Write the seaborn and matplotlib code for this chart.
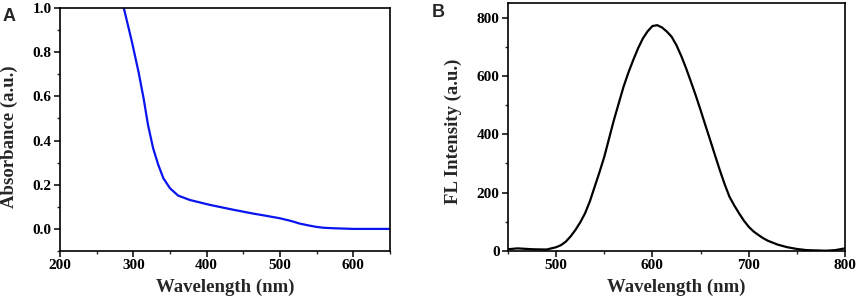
import matplotlib
matplotlib.use("Agg")
import matplotlib.pyplot as plt
import seaborn as sns
import pandas as pd
from matplotlib.ticker import MultipleLocator

sns.set_theme(style="ticks")
plt.rcParams['font.family'] = ['Liberation Serif', 'DejaVu Serif']

# Panel A: UV-vis absorbance
abs_wavelength = [287, 298, 307, 314, 320, 327, 334, 341, 350, 361, 377, 404, 436, 464, 480, 500,
                  515, 527, 540, 550, 560, 573, 600, 650]
abs_values = [1.0, 0.848, 0.712, 0.591, 0.471, 0.365, 0.290, 0.229, 0.184, 0.151, 0.131, 0.109,
              0.087, 0.069, 0.060, 0.048, 0.036, 0.024, 0.015, 0.009, 0.005, 0.003, 0.0, 0.0]

# Panel B: fluorescence emission
fl_wavelength = [450, 460, 475, 490, 500, 505, 510, 515, 520, 525, 530, 535, 540, 545, 550, 555, 560,
                 565, 570, 575, 580, 585, 590, 595, 600, 605, 610, 615, 620, 625, 630, 635, 640,
                 645, 650, 655, 660, 665, 670, 675, 680, 685, 690, 695, 700, 705, 710, 715, 720,
                 730, 740, 750, 760, 770, 780, 790, 800]
fl_values = [6, 9, 6, 5, 13, 20, 32, 50, 72, 98, 129, 170, 220, 270, 323, 386, 449,
             506, 563, 611, 654, 694, 728, 753, 771, 774, 766, 752, 734, 705, 668, 626, 580,
             533, 483, 431, 380, 328, 277, 229, 186, 156, 129, 104, 83, 67, 55, 44, 35,
             22, 13, 7, 3, 2, 1, 3, 9]

dfA = pd.DataFrame({"wl": abs_wavelength, "val": abs_values})
dfB = pd.DataFrame({"wl": fl_wavelength, "val": fl_values})

fig = plt.figure(figsize=(8.58, 3.04), dpi=100)
axA = fig.add_axes([60/858, 1-251/304, 330/858, 243/304])
axB = fig.add_axes([508/858, 1-251/304, 337/858, 248/304])

sns.lineplot(data=dfA, x="wl", y="val", ax=axA, color="#0a14ee", linewidth=1.6)
sns.lineplot(data=dfB, x="wl", y="val", ax=axB, color="black", linewidth=1.6)

axA.set_xlim(200, 650)
axA.set_ylim(-0.1, 1.0)
axA.xaxis.set_major_locator(MultipleLocator(100))
axA.xaxis.set_minor_locator(MultipleLocator(50))
axA.set_yticks([0.0, 0.2, 0.4, 0.6, 0.8, 1.0])
axA.set_yticklabels(["0.0", "0.2", "0.4", "0.6", "0.8", "1.0"])
axA.yaxis.set_minor_locator(MultipleLocator(0.1))

axB.set_xlim(450, 800)
axB.set_ylim(0, 850)
axB.xaxis.set_major_locator(MultipleLocator(100))
axB.xaxis.set_minor_locator(MultipleLocator(50))
axB.yaxis.set_major_locator(MultipleLocator(200))
axB.yaxis.set_minor_locator(MultipleLocator(100))

for ax in (axA, axB):
    for s in ax.spines.values():
        s.set_visible(True)
        s.set_linewidth(1.2)
        s.set_color("black")
    ax.tick_params(which="major", direction="out", length=4, width=1.1, pad=2,
                   labelsize=11, colors="black")
    ax.tick_params(which="minor", direction="out", length=2.5, width=1.0)
    for lab in ax.get_xticklabels() + ax.get_yticklabels():
        lab.set_fontweight("bold")
    ax.set_xlabel("Wavelength (nm)", fontsize=13.5, fontweight="bold")

axA.xaxis.set_label_coords(0.5, -0.115)
axB.xaxis.set_label_coords(0.5, -0.113)
axA.set_ylabel("Absorbance (a.u.)", fontsize=13.5, fontweight="bold")
axA.yaxis.set_label_coords(-0.127, 0.47)
axB.set_ylabel("FL Intensity (a.u.)", fontsize=13.5, fontweight="bold")
axB.yaxis.set_label_coords(-0.137, 0.484)

fig.text(3/858, 1-21/304, "A", fontsize=13, fontweight="bold", family=["Liberation Sans", "DejaVu Sans"])
fig.text(432/858, 1-17/304, "B", fontsize=13, fontweight="bold", family=["Liberation Sans", "DejaVu Sans"])

fig.savefig("out.png", dpi=100)
